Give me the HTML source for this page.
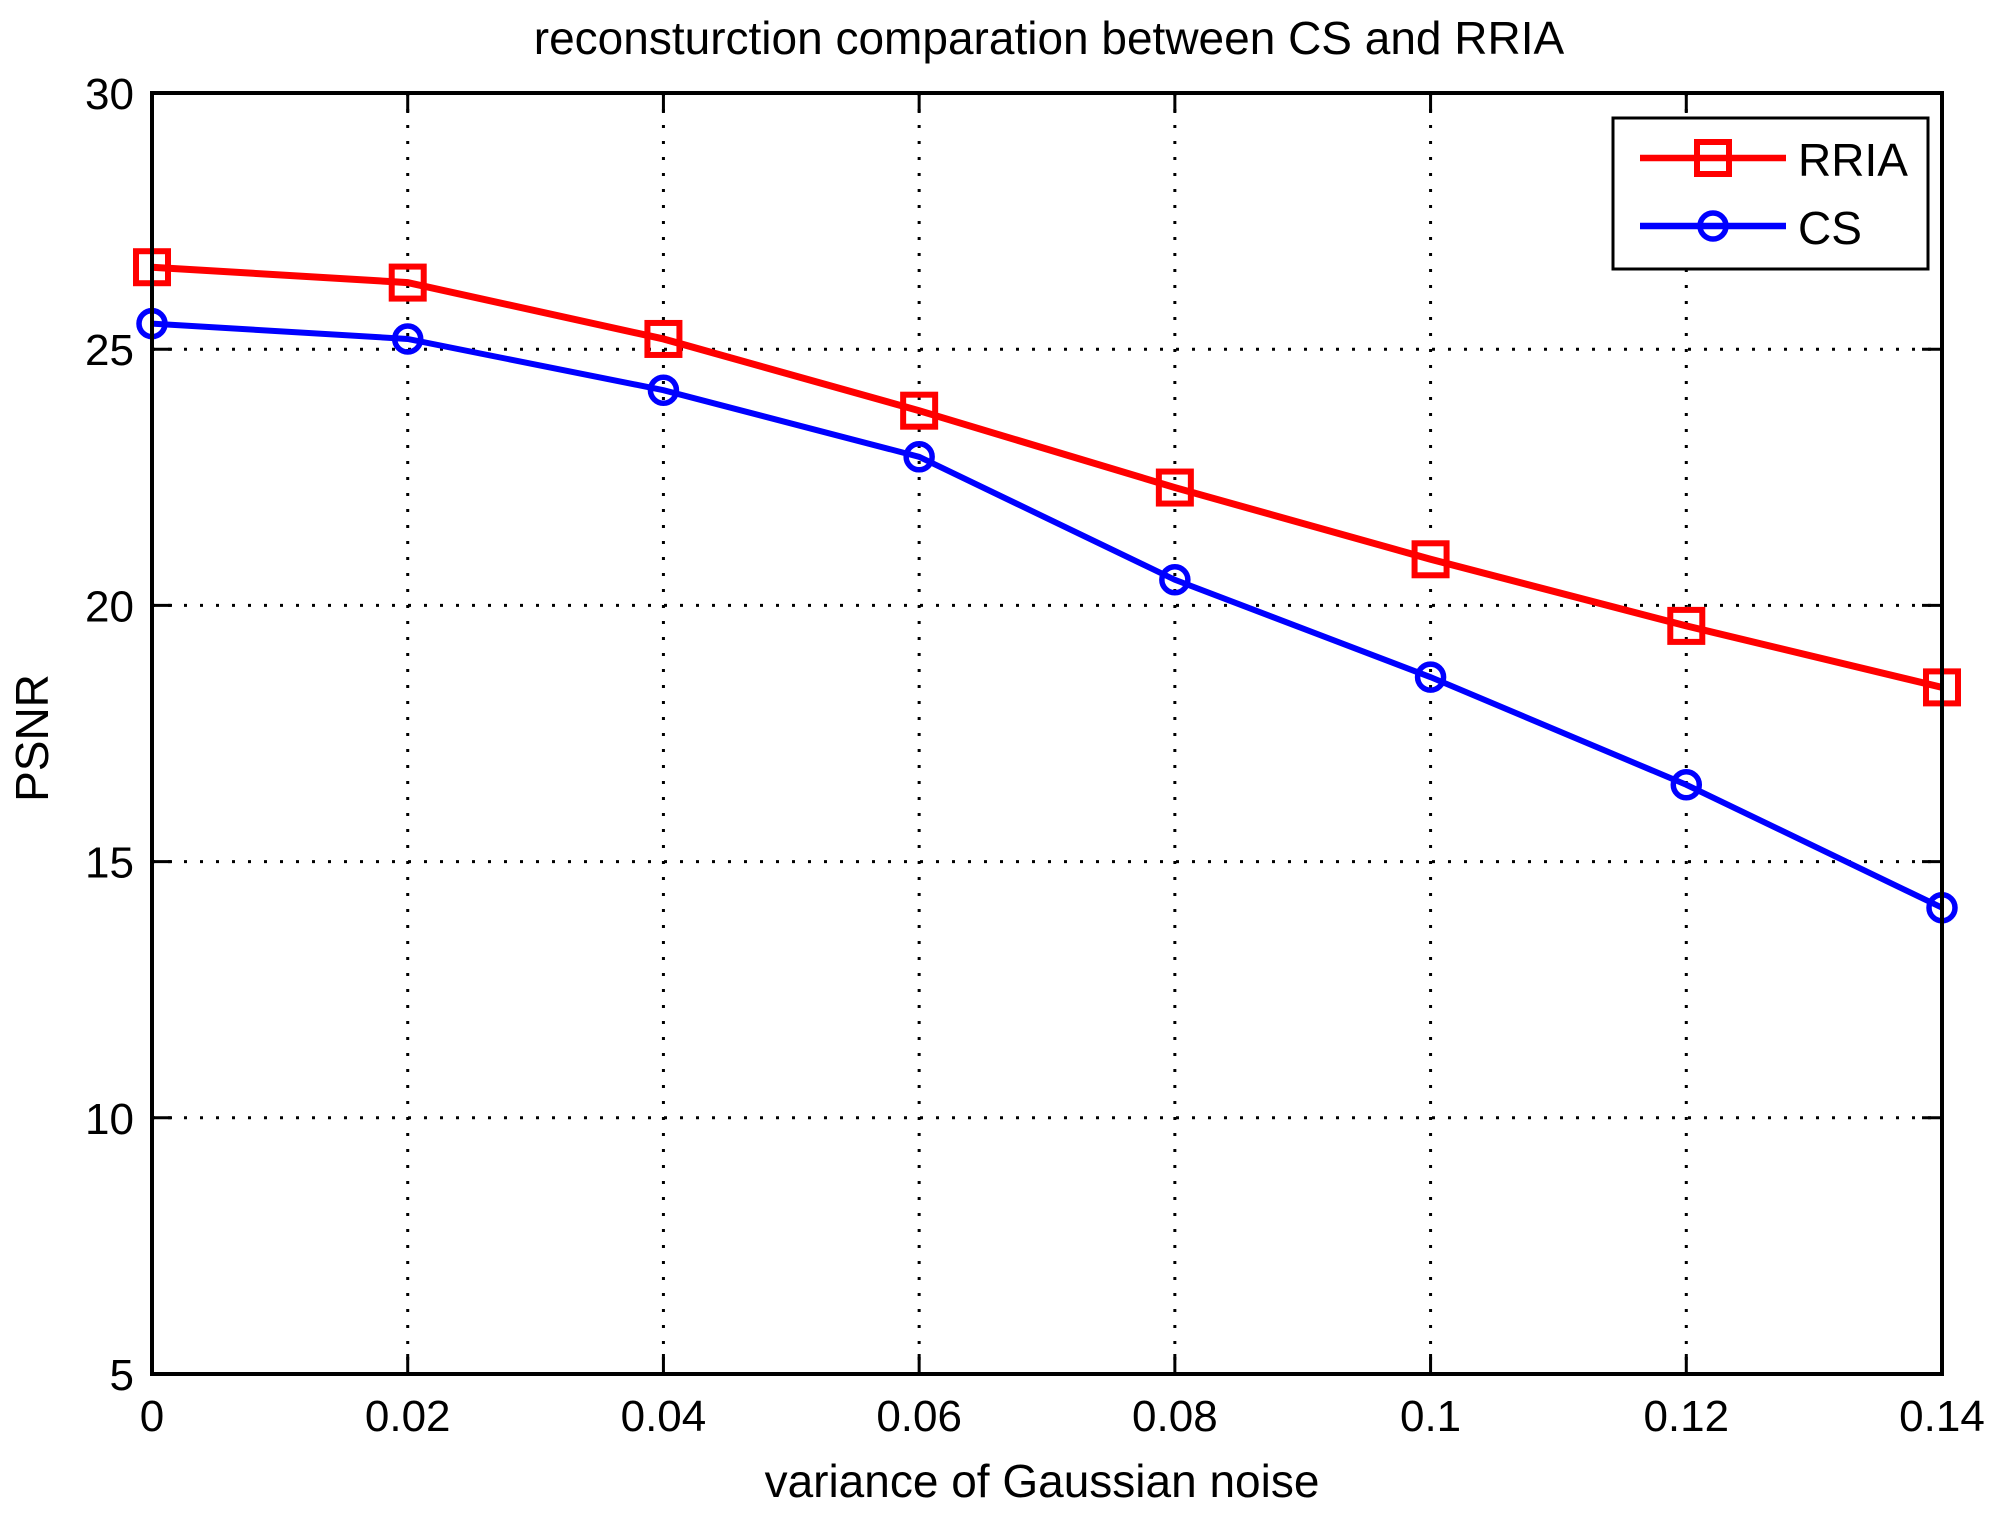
<!DOCTYPE html>
<html><head><meta charset="utf-8"><style>
html,body{margin:0;padding:0;background:#fff;}
svg{display:block;font-family:"Liberation Sans",sans-serif;}
</style></head><body>
<svg id="chart" width="2006" height="1520" viewBox="0 0 2006 1520" xmlns="http://www.w3.org/2000/svg">
<rect width="2006" height="1520" fill="#fff"/>
<text x="1049" y="54" font-size="46" text-anchor="middle">reconsturction comparation between CS and RRIA</text>
<text x="1042" y="1497" font-size="46" text-anchor="middle">variance of Gaussian noise</text>
<text transform="translate(48,738) rotate(-90)" font-size="46" text-anchor="middle">PSNR</text>
<g id="grid"></g><g id="ticks"></g><g id="series"></g>
<rect x="152" y="93" width="1790" height="1281" fill="none" stroke="#000" stroke-width="4"/>
<g>
<rect x="1613" y="118" width="315" height="151" fill="#fff" stroke="#000" stroke-width="3"/>
<g>
<line x1="1640" y1="158" x2="1786" y2="158" stroke="#f00" stroke-width="6.5"/>
<rect x="1697" y="142" width="32" height="32" fill="none" stroke="#f00" stroke-width="6"/>
<text x="1798" y="176" font-size="46">RRIA</text></g>
<g>
<line x1="1640" y1="226" x2="1786" y2="226" stroke="#00f" stroke-width="6.5"/>
<circle cx="1713" cy="226" r="13" fill="none" stroke="#00f" stroke-width="5.5"/>
<text x="1798" y="244" font-size="46">CS</text></g>
</g>
</svg>
<script>
const xValues=[0,0.02,0.04,0.06,0.08,0.1,0.12,0.14];
const rriaValues=[26.6,26.3,25.2,23.8,22.3,20.9,19.6,18.4];
const csValues=[25.5,25.2,24.2,22.9,20.5,18.6,16.5,14.1];
const xTicks=[0,0.02,0.04,0.06,0.08,0.1,0.12,0.14];
const xTickLabels=["0","0.02","0.04","0.06","0.08","0.1","0.12","0.14"];
const yTicks=[5,10,15,20,25,30];
const NS="http://www.w3.org/2000/svg";
const L=152,R=1942,T=93,B=1374;
const xs=v=>L+(v-0)/(0.14)*(R-L);
const ys=v=>B-(v-5)/(25)*(B-T);
function mk(tag,attrs,parent){const e=document.createElementNS(NS,tag);for(const k in attrs)e.setAttribute(k,attrs[k]);parent.appendChild(e);return e;}
const grid=document.getElementById('grid'),ticks=document.getElementById('ticks'),series=document.getElementById('series');
xTicks.forEach((t,i)=>{
 const x=xs(t);
 if(i>0&&i<xTicks.length-1){const g=mk('line',{x1:x,y1:T,x2:x,y2:B,stroke:'#000','stroke-width':3,'stroke-dasharray':'3 13'},grid);
 
 }
 mk('line',{x1:x,y1:B,x2:x,y2:B-20,stroke:'#000','stroke-width':3},ticks);
 mk('line',{x1:x,y1:T,x2:x,y2:T+20,stroke:'#000','stroke-width':3},ticks);
 const tx=mk('text',{x:x,y:B+57,'font-size':44,'text-anchor':'middle'},ticks);tx.textContent=xTickLabels[i];
 
 
});
yTicks.forEach((t,i)=>{
 const y=ys(t);
 if(i>0&&i<yTicks.length-1){const g=mk('line',{x1:L,y1:y,x2:R,y2:y,stroke:'#000','stroke-width':3,'stroke-dasharray':'3 13'},grid);
 
 }
 mk('line',{x1:L,y1:y,x2:L+20,y2:y,stroke:'#000','stroke-width':3},ticks);
 mk('line',{x1:R,y1:y,x2:R-20,y2:y,stroke:'#000','stroke-width':3},ticks);
 const tx=mk('text',{x:L-18,y:y+16,'font-size':44,'text-anchor':'end'},ticks);tx.textContent=String(t);
 
 
});
function drawSeries(vals,color,marker,name){
 const g=mk('g',{},series);
 
 
 const pts=vals.map((v,i)=>xs(xValues[i])+','+ys(v)).join(' ');
 const pl=mk('polyline',{points:pts,fill:'none',stroke:color,'stroke-width':marker==='sq'?7:6},g);
 
 
 vals.forEach((v,i)=>{
  const x=xs(xValues[i]),y=ys(v);let m;
  if(marker==='sq')m=mk('rect',{x:x-16,y:y-16,width:32,height:32,fill:'none',stroke:color,'stroke-width':6},g);
  else m=mk('circle',{cx:x,cy:y,r:13,fill:'none',stroke:color,'stroke-width':5.5},g);
  
  
 });
}
drawSeries(rriaValues,'#f00','sq','rria');
drawSeries(csValues,'#00f','circ','cs');
</script>
</body></html>
